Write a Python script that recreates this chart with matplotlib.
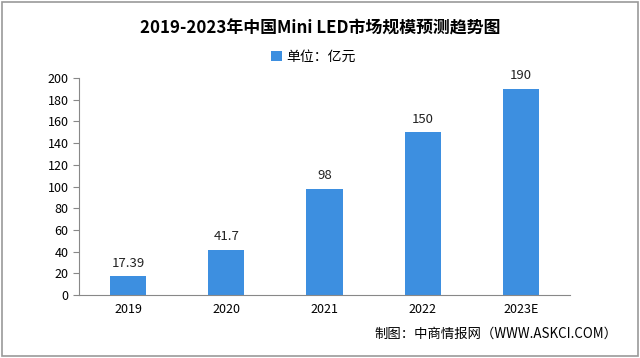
import matplotlib.pyplot as plt
from matplotlib.patches import Rectangle

plt.rcParams['font.family'] = ['Noto Sans CJK SC', 'DejaVu Sans']

years = ['2019', '2020', '2021', '2022', '2023E']
values = [17.39, 41.7, 98, 150, 190]
labels = ['17.39', '41.7', '98', '150', '190']

fig = plt.figure(figsize=(6.4, 3.58), dpi=100)
ax = fig.add_axes([79/640, 1 - 295/358, 491/640, 217/358])

x = range(len(years))
bars = ax.bar(x, values, width=0.37, color='#3d8fe0', label='单位：亿元')
for b, t in zip(bars, labels):
    ax.text(b.get_x() + b.get_width()/2, b.get_height() + 6, t,
            ha='center', va='bottom', fontsize=9.5, color='#222222')

ax.set_xlim(-0.5, 4.5)
ax.set_ylim(0, 200)
ax.set_yticks(range(0, 201, 20))
ax.set_xticks(list(x))
ax.set_xticklabels(years)
ax.tick_params(axis='x', length=0, pad=6, labelsize=9)
ax.tick_params(axis='y', length=4, color='#888888', labelsize=9)
for s in ['top', 'right']:
    ax.spines[s].set_visible(False)
ax.spines['left'].set_color('#888888')
ax.spines['bottom'].set_color('#888888')

fig.text(0.5, 1 - 28/358, '2019-2023年中国Mini LED市场规模预测趋势图',
         ha='center', va='center', fontsize=12.2, fontweight='bold')
fig.legend(loc='center', bbox_to_anchor=(0.49, 1 - 57/358), frameon=False,
           fontsize=10, handlelength=0.8, handleheight=0.8, handletextpad=0.3)
fig.text(617/640, 1 - 334/358, '制图：中商情报网（WWW.ASKCI.COM）',
         ha='right', va='center', fontsize=9.6)

fig.patches.append(Rectangle((0.003, 0.005), 0.994, 0.99, transform=fig.transFigure,
                             fill=False, edgecolor='#999999', linewidth=1.2))

plt.savefig('out.png', dpi=100)
